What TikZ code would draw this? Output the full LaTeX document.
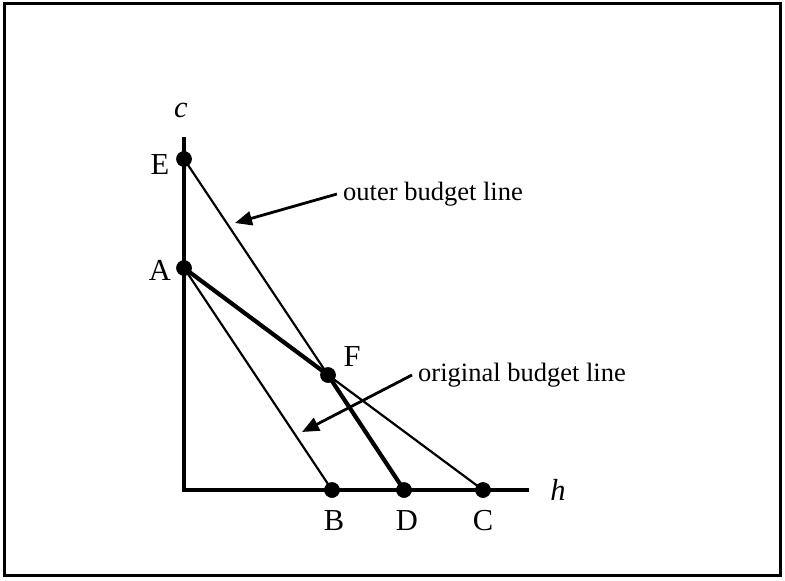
\documentclass[tikz,border=0pt]{standalone}
\usepackage{fontspec}
\setmainfont{Liberation Serif}
\usetikzlibrary{arrows.meta}
\begin{document}
\begin{tikzpicture}[x=1pt,y=-1pt,
  dot/.style={circle,fill=black,inner sep=0pt,minimum size=15.5pt},
  thinline/.style={line width=2.2pt},
  thickline/.style={line width=4.2pt},
  axisline/.style={line width=4.2pt},
  lbl/.style={font=\fontsize{30.5}{33}\selectfont,inner sep=0pt},
  note/.style={font=\fontsize{26.5}{30}\selectfont,inner sep=0pt,anchor=base west},
  pointer/.style={line width=2.8pt,-{Triangle[length=17pt,width=14pt]}}]
\useasboundingbox (0,0) rectangle (785,581);
\draw[line width=2.2pt] (4.5,3.5) rectangle (780.5,575.5);
% axes
\coordinate (O) at (184,490);
\coordinate (Ytop) at (184,137);
\coordinate (Xend) at (529,490);
\draw[axisline] (Ytop) -- (O) -- (Xend);
% points
\node[dot] (E) at (184,159) {};
\node[dot] (A) at (184,268) {};
\node[dot] (F) at (328,375) {};
\node[dot] (B) at (332,490) {};
\node[dot] (D) at (404,490) {};
\node[dot] (C) at (483,490) {};
% lines
\draw[thinline] (E.center) -- (F.center);
\draw[thinline] (F.center) -- (C.center);
\draw[thinline] (A.center) -- (B.center);
\draw[thickline] (A.center) -- (F.center);
\draw[thickline] (F.center) -- (D.center);
\node[dot] at (E) {};
\node[dot] at (A) {};
\node[dot] at (F) {};
\node[dot] at (B) {};
\node[dot] at (D) {};
\node[dot] at (C) {};
% labels
\node[lbl] (lc) at (181,110) {\itshape c};
\node[lbl] (lh) at (558,490) {\itshape h};
\node[lbl] (lE) at (160,165) {E};
\node[lbl] (lA) at (160,270) {A};
\node[lbl] (lF) at (352,357) {F};
\node[lbl] (lB) at (334,521) {B};
\node[lbl] (lD) at (407,521) {D};
\node[lbl] (lC) at (483,521) {C};
% notes
\node[note] (outer) at (343,200) {outer budget line};
\node[note] (orig) at (418,381) {original budget line};
\coordinate (outerTip) at (235,223);
\coordinate (origTip) at (302,432);
\draw[pointer] ([xshift=-6pt,yshift=6pt]orig.base west) -- (origTip);
\draw[pointer] ([xshift=-6pt,yshift=6pt]outer.base west) -- (outerTip);
\end{tikzpicture}
\end{document}
